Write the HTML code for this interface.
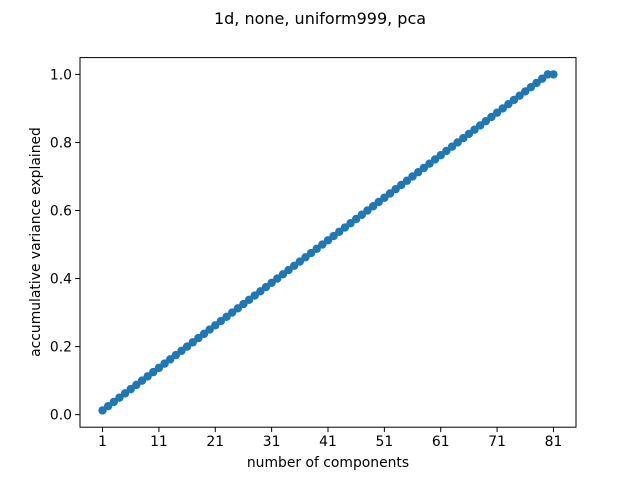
<!DOCTYPE html>
<html><head><meta charset="utf-8"><style>
body{margin:0;background:#fff;}
svg text{font-family:"DejaVu Sans","Liberation Sans",sans-serif;fill:#000;}
</style></head><body>
<svg id="chart" width="640" height="480" xmlns="http://www.w3.org/2000/svg">
<rect width="640" height="480" fill="#fff"/>
<text x="320" y="24" font-size="16" text-anchor="middle">1d, none, uniform999, pca</text>
<g id="plot"></g>
<rect x="80" y="57.6" width="496" height="369.6" fill="none" stroke="#000" stroke-width="1"/>
<text x="328" y="467" font-size="13.9" text-anchor="middle">number of components</text>
<text transform="translate(40,242) rotate(-90)" font-size="13.9" text-anchor="middle">accumulative variance explained</text>
</svg>
<script>
const xTicks=[1,11,21,31,41,51,61,71,81];
const yTicks=[0.0,0.2,0.4,0.6,0.8,1.0];
const yTickLabels=["0.0","0.2","0.4","0.6","0.8","1.0"];
const components=[1,2,3,4,5,6,7,8,9,10,11,12,13,14,15,16,17,18,19,20,21,22,23,24,25,26,27,28,29,30,31,32,33,34,35,36,37,38,39,40,41,42,43,44,45,46,47,48,49,50,51,52,53,54,55,56,57,58,59,60,61,62,63,64,65,66,67,68,69,70,71,72,73,74,75,76,77,78,79,80,81];
const values=[0.0125,0.025,0.0375,0.05,0.0625,0.075,0.0875,0.1,0.1125,0.125,0.1375,0.15,0.1625,0.175,0.1875,0.2,0.2125,0.225,0.2375,0.25,0.2625,0.275,0.2875,0.3,0.3125,0.325,0.3375,0.35,0.3625,0.375,0.3875,0.4,0.4125,0.425,0.4375,0.45,0.4625,0.475,0.4875,0.5,0.5125,0.525,0.5375,0.55,0.5625,0.575,0.5875,0.6,0.6125,0.625,0.6375,0.65,0.6625,0.675,0.6875,0.7,0.7125,0.725,0.7375,0.75,0.7625,0.775,0.7875,0.8,0.8125,0.825,0.8375,0.85,0.8625,0.875,0.8875,0.9,0.9125,0.925,0.9375,0.95,0.9625,0.975,0.9875,1.0,1.0];
const L=80,R=576,T=57.6,B=427.2;
const xmin=Math.min(...components),xmax=Math.max(...components);
const xpad=(xmax-xmin)*0.05;
const ymin=Math.min(...values),ymax=Math.max(...values);
const ypad=(ymax-ymin)*0.05;
const X=v=>L+(v-(xmin-xpad))/((xmax+xpad)-(xmin-xpad))*(R-L);
const Y=v=>B-(v-(ymin-ypad))/((ymax+ypad)-(ymin-ypad))*(B-T);
const NS="http://www.w3.org/2000/svg";
const svg=document.getElementById('chart');
const plot=document.getElementById('plot');
function mk(tag,attrs,parent){const e=document.createElementNS(NS,tag);for(const k in attrs)e.setAttribute(k,attrs[k]);parent.appendChild(e);return e;}
xTicks.forEach(t=>{
  const l=mk('line',{x1:X(t),x2:X(t),y1:B,y2:B+4.9,stroke:'#000','stroke-width':1},svg);
  
  
  const tx=mk('text',{x:X(t),y:B+19,'font-size':13.9,'text-anchor':'middle'},svg);
  tx.textContent=t;
  
  
});
yTicks.forEach((t,i)=>{
  const l=mk('line',{x1:L-4.9,x2:L,y1:Y(t),y2:Y(t),stroke:'#000','stroke-width':1},svg);
  
  
  const tx=mk('text',{x:L-8,y:Y(t)+5,'font-size':13.9,'text-anchor':'end'},svg);
  tx.textContent=yTickLabels[i];
  
  
});
const pts=components.map((c,i)=>X(c)+','+Y(values[i])).join(' ');
const line=mk('polyline',{points:pts,fill:'none',stroke:'#1f77b4','stroke-width':2},plot);


components.forEach((c,i)=>{
  const p=mk('circle',{cx:X(c),cy:Y(values[i]),r:4.2,fill:'#1f77b4'},plot);
  
  
});
</script>
</body></html>
